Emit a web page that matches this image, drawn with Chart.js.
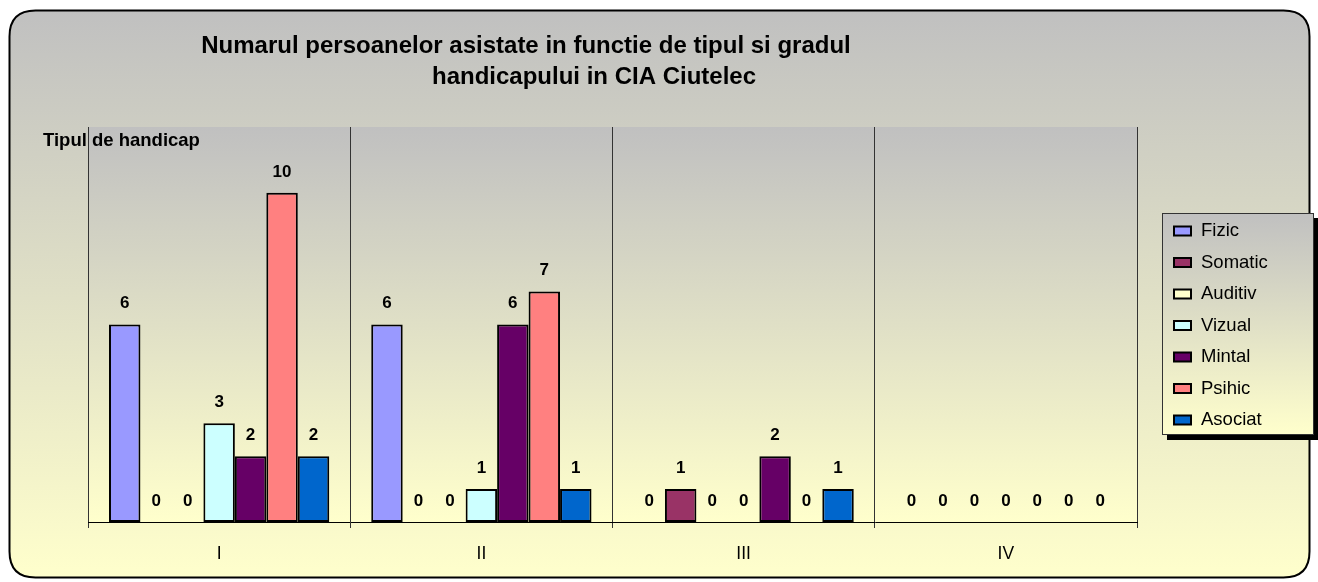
<!DOCTYPE html>
<html><head><meta charset="utf-8">
<script src="https://cdn.jsdelivr.net/npm/chart.js@4.4.1/dist/chart.umd.min.js"></script>
<style>html,body{margin:0;padding:0;background:#fff}#wrap{width:1318px;height:582px;position:relative}</style>
</head><body><div id="wrap"><canvas id="c" width="1318" height="582"></canvas></div>
<script>
const categories = ['I', 'II', 'III', 'IV'];
const seriesNames = ['Fizic', 'Somatic', 'Auditiv', 'Vizual', 'Mintal', 'Psihic', 'Asociat'];
const fizic = [6, 6, 0, 0];
const somatic = [0, 0, 1, 0];
const auditiv = [0, 0, 0, 0];
const vizual = [3, 1, 0, 0];
const mintal = [2, 6, 2, 0];
const psihic = [10, 7, 0, 0];
const asociat = [2, 1, 1, 0];
const seriesColors = ['#9999FF', '#993366', '#FFFFCC', '#CCFFFF', '#660066', '#FF8080', '#0066CC'];
const titleLines = ['Numarul persoanelor asistate in functie de tipul si gradul', 'handicapului in CIA Ciutelec'];
const axisTitle = 'Tipul de handicap';

const FONT = '"Liberation Sans", Arial, sans-serif';
const seriesValues = [fizic, somatic, auditiv, vizual, mintal, psihic, asociat];

const datasets = seriesNames.map((name, i) => ({
  label: name,
  data: seriesValues[i],
  backgroundColor: seriesColors[i],
  borderColor: '#000',
  borderWidth: ctx => (ctx.raw === 0 ? 0 : 2),
  borderSkipped: false,
  categoryPercentage: 0.84,
  barPercentage: 1.0
}));

function roundRect(ctx, x, y, w, h, r) {
  ctx.beginPath();
  ctx.moveTo(x + r, y);
  ctx.lineTo(x + w - r, y);
  ctx.quadraticCurveTo(x + w, y, x + w, y + r);
  ctx.lineTo(x + w, y + h - r);
  ctx.quadraticCurveTo(x + w, y + h, x + w - r, y + h);
  ctx.lineTo(x + r, y + h);
  ctx.quadraticCurveTo(x, y + h, x, y + h - r);
  ctx.lineTo(x, y + r);
  ctx.quadraticCurveTo(x, y, x + r, y);
  ctx.closePath();
}

const bgPlugin = {
  id: 'bg',
  beforeDraw(chart) {
    const ctx = chart.ctx;
    const W = chart.width, H = chart.height;
    ctx.save();
    ctx.fillStyle = '#fff';
    ctx.fillRect(0, 0, W, H);
    const g = ctx.createLinearGradient(0, 10, 0, 578);
    g.addColorStop(0, '#C0C0C0');
    g.addColorStop(1, '#FFFFCC');
    roundRect(ctx, 9.5, 10.5, 1300, 567, 26);
    ctx.fillStyle = g;
    ctx.fill();
    ctx.lineWidth = 2;
    ctx.strokeStyle = '#000';
    ctx.stroke();
    const a = chart.chartArea;
    const g2 = ctx.createLinearGradient(0, a.top, 0, a.bottom);
    g2.addColorStop(0, '#C0C0C0');
    g2.addColorStop(1, '#FFFFCC');
    ctx.fillStyle = g2;
    ctx.fillRect(a.left, a.top, a.right - a.left, a.bottom - a.top);
    // title
    ctx.fillStyle = '#000';
    ctx.font = 'bold 24px ' + FONT;
    ctx.textAlign = 'center';
    ctx.textBaseline = 'middle';
    ctx.fillText(titleLines[0], 526, 46);
    ctx.fillText(titleLines[1], 594, 77);
    ctx.restore();
  },
  afterDraw(chart) {
    const ctx = chart.ctx;
    ctx.save();
    // axis title
    ctx.fillStyle = '#000';
    ctx.font = 'bold 18.5px ' + FONT;
    ctx.textAlign = 'left';
    ctx.textBaseline = 'middle';
    ctx.fillText(axisTitle, 43, 141);
    // legend
    const lx = 1162, ly = 213, lw = 152, lh = 222;
    ctx.fillStyle = '#000';
    ctx.fillRect(lx + 5, ly + 5, lw, lh);
    const g = ctx.createLinearGradient(0, ly, 0, ly + lh);
    g.addColorStop(0, '#C0C0C0');
    g.addColorStop(1, '#FFFFCC');
    ctx.fillStyle = g;
    ctx.fillRect(lx, ly, lw, lh);
    ctx.lineWidth = 1;
    ctx.strokeStyle = '#333';
    ctx.strokeRect(lx + 0.5, ly + 0.5, lw - 1, lh - 1);
    ctx.font = '18.5px ' + FONT;
    chart.data.datasets.forEach((ds, i) => {
      const cy = 231 + i * 31.5;
      ctx.fillStyle = ds.backgroundColor;
      ctx.fillRect(1174, cy - 4.5, 17, 9);
      ctx.lineWidth = 2;
      ctx.strokeStyle = '#000';
      ctx.strokeRect(1174, cy - 4.5, 17, 9);
      ctx.fillStyle = '#000';
      ctx.fillText(ds.label, 1201, cy);
    });
    ctx.restore();
  },
  afterDatasetsDraw(chart) {
    const ctx = chart.ctx;
    ctx.save();
    ctx.fillStyle = '#000';
    ctx.font = 'bold 17px ' + FONT;
    ctx.textAlign = 'center';
    ctx.textBaseline = 'middle';
    chart.data.datasets.forEach((ds, i) => {
      const meta = chart.getDatasetMeta(i);
      meta.data.forEach((el, j) => {
        ctx.fillText(String(ds.data[j]), el.x, el.y - 21);
      });
    });
    ctx.restore();
  }
};

new Chart(document.getElementById('c'), {
  type: 'bar',
  data: { labels: categories, datasets },
  options: {
    responsive: false,
    animation: false,
    devicePixelRatio: 1,
    layout: { padding: { left: 88, right: 181, top: 127, bottom: 0 } },
    plugins: { legend: { display: false }, title: { display: false }, tooltip: { enabled: false } },
    scales: {
      x: {
        offset: true,
        grid: { display: true, offset: true, color: '#333', lineWidth: 1, tickLength: 6, drawOnChartArea: true },
        border: { display: true, color: '#000', width: 1 },
        ticks: { color: '#000', font: { family: FONT, size: 17.5 }, padding: 16 },
        afterFit(s) { s.height = 60; }
      },
      y: { display: false, min: 0, max: 12 }
    }
  },
  plugins: [bgPlugin]
});
</script>
</body></html>
